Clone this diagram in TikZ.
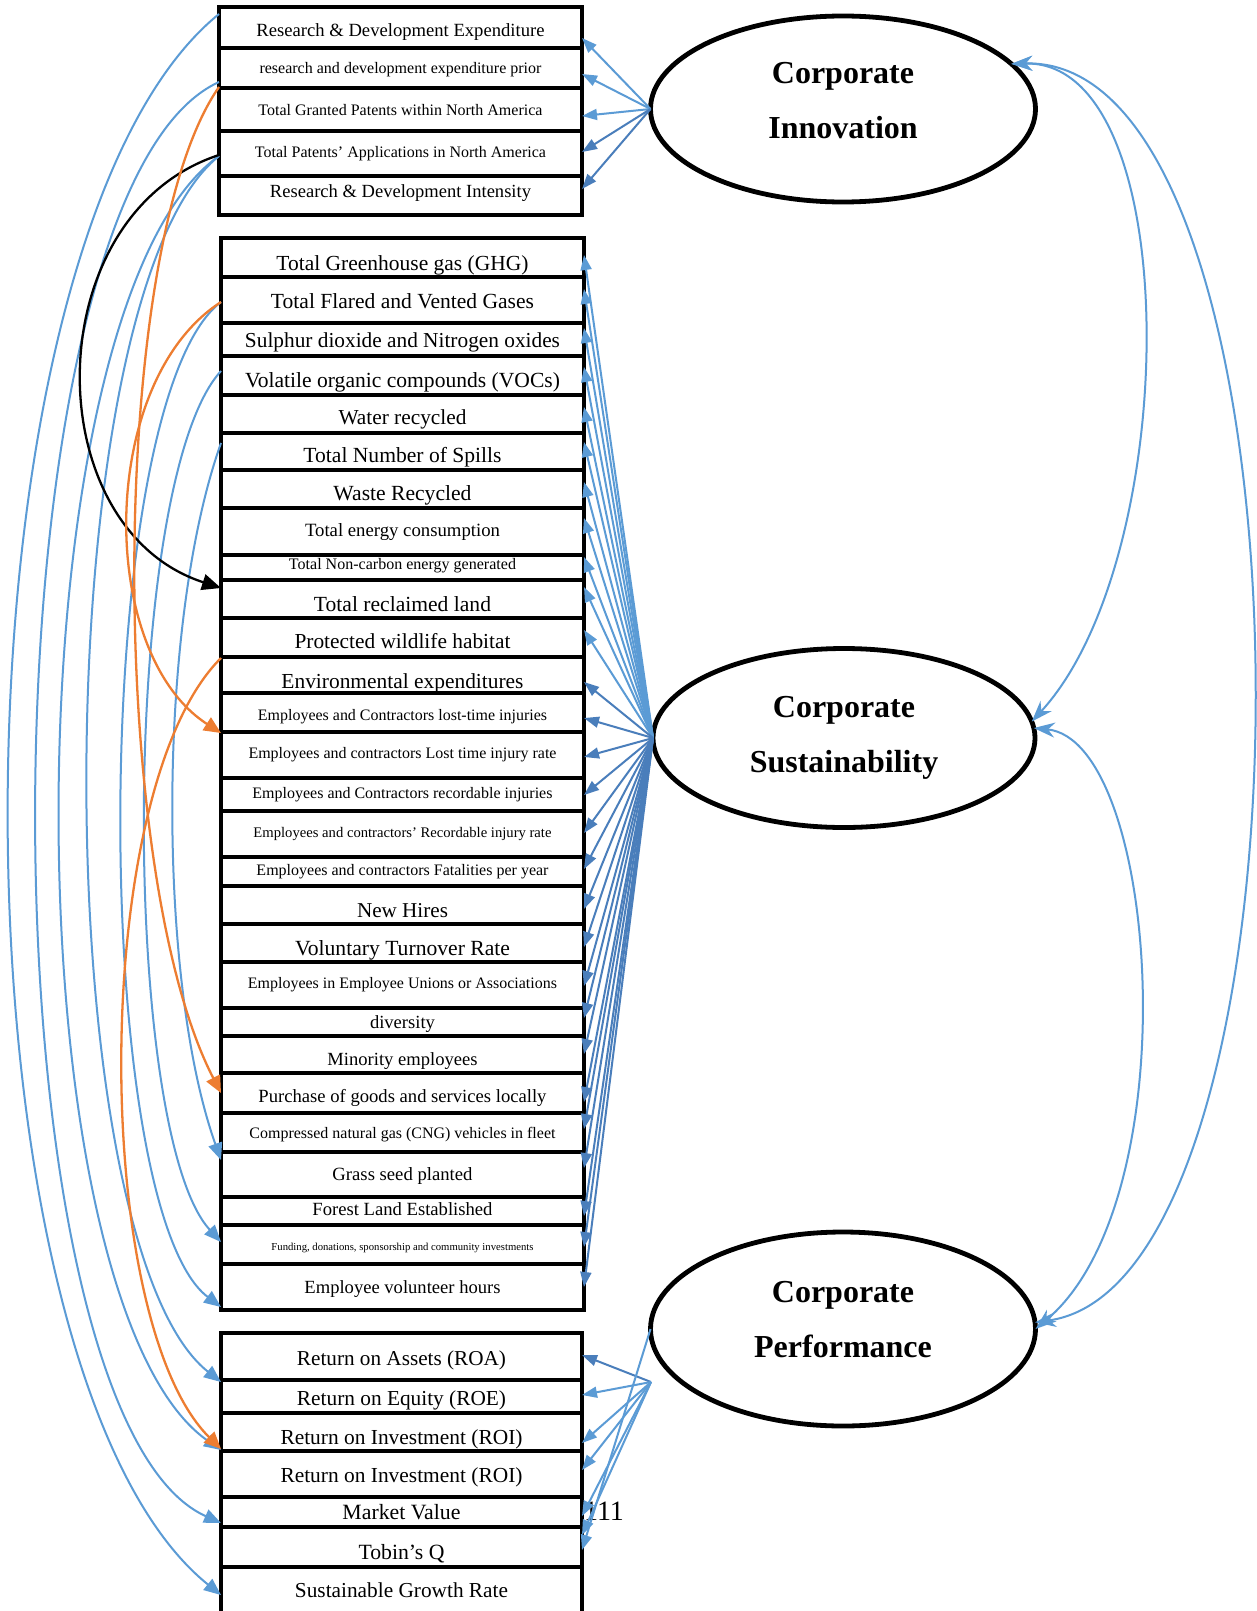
\documentclass[tikz,border=0pt]{standalone}
\usepackage{fontspec}
\setmainfont{Liberation Serif}
\usepackage{graphicx}
\usetikzlibrary{shapes.geometric,arrows.meta}

\definecolor{lightblue}{HTML}{5B9BD5}
\definecolor{darkblue}{HTML}{4A7EBB}
\definecolor{orangeline}{HTML}{ED7D31}

% one indicator row: name, left x, right x, top y, bottom y, text width, text baseline, text
\newcommand\cellrow[8]{%
  \node[cell, minimum width={(#3-#2)*1pt}, minimum height={(#5-#4)*1pt}] (#1) at ({(#2+#3)/2},{(#4+#5)/2}) {};
  \node[lbl] (#1t) at ({(#2+#3)/2},#7) {\resizebox{#6pt}{!}{#8}};
}

\begin{document}
\begin{tikzpicture}[x=1pt, y=-1pt,
  cell/.style={draw=black, line width=4.6pt, fill=white, rectangle, inner sep=0pt, outer sep=0pt},
  lbl/.style={anchor=base, inner sep=0pt, outer sep=0pt},
  latent/.style={draw=black, line width=4.8pt, fill=white, ellipse, inner sep=0pt, outer sep=0pt},
  ltitle/.style={anchor=base, inner sep=0pt, font=\fontsize{32}{32}\selectfont\bfseries},
  fanl/.style={draw=lightblue, line width=2pt, -{Triangle[length=15pt,width=11pt]}},
  fand/.style={draw=darkblue, line width=2pt, -{Triangle[length=15pt,width=11pt]}},
  covb/.style={draw=lightblue, line width=2pt, -{Triangle[length=17pt,width=14pt]}},
  covo/.style={draw=orangeline, line width=2.3pt, -{Triangle[length=17pt,width=15pt]}},
  covk/.style={draw=black, line width=2.3pt, -{Triangle[length=19pt,width=16pt]}},
  rcov/.style={draw=lightblue, line width=2pt, {Stealth[length=21pt,width=15pt]}-{Stealth[length=21pt,width=15pt]}},
]
\path[use as bounding box, fill=white] (0,0) rectangle (1257,1611);

% page number behind the performance block
\node[anchor=base, inner sep=0pt, font=\fontsize{28}{28}\selectfont] (pageno) at (604,1520) {111};

% ---- innovation indicators
\cellrow{i1}{219}{582}{7}{48}{288}{37}{Research \& Development Expenditure}
\cellrow{i2}{219}{582}{48}{88}{282}{74}{research and development expenditure prior}
\cellrow{i3}{219}{582}{88}{131}{284}{115}{Total Granted Patents within North America}
\cellrow{i4}{219}{582}{131}{176}{291}{157}{Total Patents' Applications in North America}
\cellrow{i5}{219}{582}{176}{215}{261}{197}{Research \& Development Intensity}

% ---- sustainability indicators
\cellrow{s1}{221}{584}{238}{277}{252}{270}{Total Greenhouse gas (GHG)}
\cellrow{s2}{221}{584}{277}{323}{263}{308}{Total Flared and Vented Gases}
\cellrow{s3}{221}{584}{323}{356}{315}{347}{Sulphur dioxide and Nitrogen oxides}
\cellrow{s4}{221}{584}{356}{395}{315}{387}{Volatile organic compounds (VOCs)}
\cellrow{s5}{221}{584}{395}{433}{128}{424}{Water recycled}
\cellrow{s6}{221}{584}{433}{470}{198}{462}{Total Number of Spills}
\cellrow{s7}{221}{584}{470}{508}{138}{500}{Waste Recycled}
\cellrow{s8}{221}{584}{508}{555}{195}{536}{Total energy consumption}
\cellrow{s9}{221}{584}{555}{580}{227}{569}{Total Non-carbon energy generated}
\cellrow{s10}{221}{584}{580}{618}{177}{611}{Total reclaimed land}
\cellrow{s11}{221}{584}{618}{657}{216}{648}{Protected wildlife habitat}
\cellrow{s12}{221}{584}{657}{693}{242}{688}{Environmental expenditures}
\cellrow{s13}{221}{584}{693}{732}{289}{720}{Employees and Contractors lost-time injuries}
\cellrow{s14}{221}{584}{732}{778}{308}{758}{Employees and contractors Lost time injury rate}
\cellrow{s15}{221}{584}{778}{811}{300}{798}{Employees and Contractors recordable injuries}
\cellrow{s16}{221}{584}{811}{857}{298}{837}{Employees and contractors' Recordable injury rate}
\cellrow{s17}{221}{584}{857}{886}{292}{875}{Employees and contractors Fatalities per year}
\cellrow{s18}{221}{584}{886}{924}{91}{917}{New Hires}
\cellrow{s19}{221}{584}{924}{962}{215}{955}{Voluntary Turnover Rate}
\cellrow{s20}{221}{584}{962}{1008}{309}{988}{Employees in Employee Unions or Associations}
\cellrow{s21}{221}{584}{1008}{1036}{65}{1028}{diversity}
\cellrow{s22}{221}{584}{1036}{1073}{150}{1065}{Minority employees}
\cellrow{s23}{221}{584}{1073}{1113}{288}{1102}{Purchase of goods and services locally}
\cellrow{s24}{221}{584}{1113}{1152}{306}{1138}{Compressed natural gas (CNG) vehicles in fleet}
\cellrow{s25}{221}{584}{1152}{1197}{140}{1180}{Grass seed planted}
\cellrow{s26}{221}{584}{1197}{1225}{180}{1215}{Forest Land Established}
\cellrow{s27}{221}{584}{1225}{1264}{262}{1250}{Funding, donations, sponsorship and community investments}
\cellrow{s28}{221}{584}{1264}{1310}{196}{1293}{Employee volunteer hours}

% ---- performance indicators
\cellrow{p1}{221}{582}{1333}{1380}{209}{1365}{Return on Assets (ROA)}
\cellrow{p2}{221}{582}{1380}{1413}{209}{1405}{Return on Equity (ROE)}
\cellrow{p3}{221}{582}{1413}{1451}{242}{1444}{Return on Investment (ROI)}
\cellrow{p4}{221}{582}{1451}{1497}{242}{1482}{Return on Investment (ROI)}
\cellrow{p5}{221}{582}{1497}{1527}{118}{1519}{Market Value}
\cellrow{p6}{221}{582}{1527}{1567}{86}{1559}{Tobin's Q}
\cellrow{p7}{221}{582}{1567}{1650}{213}{1597}{Sustainable Growth Rate}

% ---- latent constructs
\node[latent, minimum width=385pt, minimum height=186pt] (ci) at (843,109) {};
\node[latent, minimum width=382pt, minimum height=179pt] (cs) at (844,738) {};
\node[latent, minimum width=385pt, minimum height=194pt] (cp) at (843,1329) {};
\node[ltitle] (ci1) at (843,83) {Corporate};
\node[ltitle] (ci2) at (843,138) {Innovation};
\node[ltitle] (cs1) at (844,717) {Corporate};
\node[ltitle] (cs2) at (844,772) {Sustainability};
\node[ltitle] (cp1) at (843,1302) {Corporate};
\node[ltitle] (cp2) at (843,1357) {Performance};

% ---- loadings
\foreach \b/\y in {i1/38,i2/74,i3/116}
  \draw[fanl] (ci.west) -- (\b.east |- 0,\y);
\foreach \b/\y in {i4/152,i5/189}
  \draw[fand] (ci.west) -- (\b.east |- 0,\y);
\foreach \b/\y in {s1/255,s2/289,s3/328,s4/367,s5/407,s6/442,s7/482,s8/518,s9/557,s10/587,s11/630}
  \draw[fanl] (cs.west) -- (\b.east |- 0,\y);
\foreach \b/\y in {s12/682,s13/718,s14/757,s15/795,s16/833,s17/869,s18/909,s19/947,s20/986,s21/1018,s22/1054,s23/1102,s24/1129,s25/1168,s26/1216,s27/1247,s28/1287}
  \draw[fand] (cs.west) -- (\b.east |- 0,\y);
\coordinate (cphub) at (651,1382);
\draw[fand] (cphub) -- (p1.east |- 0,1355);
\foreach \b/\y in {p2/1395,p3/1443,p4/1470,p5/1516,p6/1535}
  \draw[fanl] (cphub) -- (\b.east |- 0,\y);
\draw[fanl] (cp.west) -- (p6.east |- 0,1550);

% ---- error covariances between indicators
\draw[covb] (i1.west |- 0,14) .. controls +(-280,227) and +(-282,-227) .. (p7.west |- 0,1595);
\draw[covb] (i2.west |- 0,82) .. controls +(-243,110) and +(-245,-110) .. (p5.west |- 0,1523);
\draw[covb] (i4.west |- 0,156) .. controls +(-212,150) and +(-214,-150) .. (p4.west |- 0,1450);
\draw[covb] (i4.west |- 0,156) .. controls +(-175,140) and +(-177,-140) .. (p2.west |- 0,1382);
\draw[covb] (s2.west |- 0,302) .. controls +(-132,100) and +(-132,-100) .. (s28.west |- 0,1307);
\draw[covb] (s4.west |- 0,371) .. controls +(-101,110) and +(-101,-110) .. (s27.west |- 0,1242);
\draw[covb] (s6.west |- 0,443) .. controls +(-64,180) and +(-64,-180) .. (s25.west |- 0,1160);
\draw[covk] (i4.west |- 0,155) .. controls +(-183,60) and +(-185,-60) .. (s10.west |- 0,588);
\draw[covo] (i2.west |- 0,87) .. controls +(-112,160) and +(-114,-220) .. (s23.west |- 0,1093);
\draw[covo] (s2.west |- 0,302) .. controls +(-124,80) and +(-124,-80) .. (s14.west |- 0,733);
\draw[covo] (s12.west |- 0,658) .. controls +(-131,130) and +(-131,-130) .. (p4.west |- 0,1449);

% ---- covariances between constructs
\draw[rcov] (ci.15) .. controls +(175,-5) and +(151,-164) .. (cs.5);
\draw[rcov] (ci.15) .. controls +(316,-10) and +(295,-40) .. (cp.2);
\draw[rcov] (cs.3) .. controls +(125,12) and +(155,-129) .. (cp.0);
\end{tikzpicture}
\end{document}
